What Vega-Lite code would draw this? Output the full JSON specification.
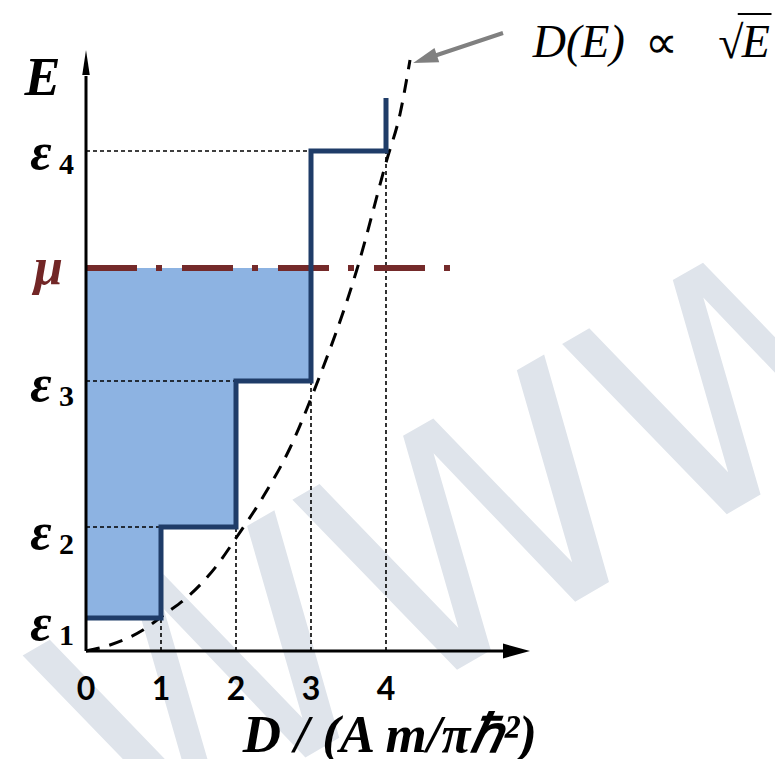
{
  "$schema": "https://vega.github.io/schema/vega-lite/v6.json",
  "width": 775,
  "height": 759,
  "autosize": {"type": "none"},
  "padding": 0,
  "background": "white",
  "config": {"view": {"stroke": null}},
  "layer": [
    {
      "data": {"values": [{"t": "WWW", "D": 5.96, "E": 0.25}]},
      "mark": {"type": "text", "font": "DejaVu Sans", "fontSize": 315, "angle": -30, "color": "#dfe4eb", "align": "center", "baseline": "alphabetic"},
      "encoding": {
        "x": {"field": "D", "type": "quantitative", "scale": {"domain": [-1.14667, 9.18667], "nice": false, "zero": false}, "axis": null},
        "y": {"field": "E", "type": "quantitative", "scale": {"domain": [-1.08, 6.51], "nice": false, "zero": false}, "axis": null},
        "text": {"field": "t"}
      }
    },
    {
      "data": {"values": [
        {"D0": 0, "D1": 1, "E0": 0.33, "E1": 1.24},
        {"D0": 0, "D1": 2, "E0": 1.24, "E1": 2.70},
        {"D0": 0, "D1": 3, "E0": 2.70, "E1": 3.83}
      ]},
      "mark": {"type": "rect", "color": "#8db3e2"},
      "encoding": {
        "x": {"field": "D0", "type": "quantitative", "scale": {"domain": [-1.14667, 9.18667], "nice": false, "zero": false}, "axis": null},
        "x2": {"field": "D1"},
        "y": {"field": "E0", "type": "quantitative", "scale": {"domain": [-1.08, 6.51], "nice": false, "zero": false}, "axis": null},
        "y2": {"field": "E1"}
      }
    },
    {
      "data": {"values": [
        {"D0": 0, "D1": 1, "E0": 1.24, "E1": 1.24},
        {"D0": 0, "D1": 2, "E0": 2.70, "E1": 2.70},
        {"D0": 0, "D1": 3, "E0": 5.00, "E1": 5.00},
        {"D0": 1, "D1": 1, "E0": 0, "E1": 0.33},
        {"D0": 2, "D1": 2, "E0": 0, "E1": 1.24},
        {"D0": 3, "D1": 3, "E0": 0, "E1": 2.70},
        {"D0": 4, "D1": 4, "E0": 0, "E1": 5.00}
      ]},
      "mark": {"type": "rule", "color": "black", "strokeWidth": 1.6, "strokeDash": [4, 3]},
      "encoding": {
        "x": {"field": "D0", "type": "quantitative", "scale": {"domain": [-1.14667, 9.18667], "nice": false, "zero": false}, "axis": null},
        "x2": {"field": "D1"},
        "y": {"field": "E0", "type": "quantitative", "scale": {"domain": [-1.08, 6.51], "nice": false, "zero": false}, "axis": null},
        "y2": {"field": "E1"}
      }
    },
    {
      "data": {"values": [
        {"D": 0, "E": 0},
        {"D": 0.32, "E": 0.06},
        {"D": 0.76, "E": 0.21},
        {"D": 1.07, "E": 0.38},
        {"D": 1.29, "E": 0.5},
        {"D": 1.75, "E": 0.86},
        {"D": 2.01, "E": 1.14},
        {"D": 2.36, "E": 1.54},
        {"D": 2.72, "E": 2.03},
        {"D": 3.06, "E": 2.64},
        {"D": 3.61, "E": 3.81},
        {"D": 4.01, "E": 4.91},
        {"D": 4.19, "E": 5.38},
        {"D": 4.32, "E": 5.91}
      ]},
      "mark": {"type": "line", "color": "black", "strokeWidth": 3, "strokeDash": [14, 10], "interpolate": "monotone"},
      "encoding": {
        "x": {"field": "D", "type": "quantitative", "scale": {"domain": [-1.14667, 9.18667], "nice": false, "zero": false}, "axis": null},
        "y": {"field": "E", "type": "quantitative", "scale": {"domain": [-1.08, 6.51], "nice": false, "zero": false}, "axis": null}
      }
    },
    {
      "data": {"values": [{"D0": 0, "D1": 4.853, "E": 3.83}]},
      "mark": {"type": "rule", "color": "#742a2a", "strokeWidth": 6, "strokeDash": [51, 19, 6, 20], "strokeCap": "butt"},
      "encoding": {
        "x": {"field": "D0", "type": "quantitative", "scale": {"domain": [-1.14667, 9.18667], "nice": false, "zero": false}, "axis": null},
        "x2": {"field": "D1"},
        "y": {"field": "E", "type": "quantitative", "scale": {"domain": [-1.08, 6.51], "nice": false, "zero": false}, "axis": null}
      }
    },
    {
      "data": {"values": [
        {"i": 0, "D": 0, "E": 0.33},
        {"i": 1, "D": 1, "E": 0.33},
        {"i": 2, "D": 1, "E": 1.24},
        {"i": 3, "D": 2, "E": 1.24},
        {"i": 4, "D": 2, "E": 2.70},
        {"i": 5, "D": 3, "E": 2.70},
        {"i": 6, "D": 3, "E": 5.00},
        {"i": 7, "D": 4, "E": 5.00},
        {"i": 8, "D": 4, "E": 5.53}
      ]},
      "mark": {"type": "line", "color": "#1f3c68", "strokeWidth": 5, "strokeJoin": "miter"},
      "encoding": {
        "x": {"field": "D", "type": "quantitative", "scale": {"domain": [-1.14667, 9.18667], "nice": false, "zero": false}, "axis": null},
        "y": {"field": "E", "type": "quantitative", "scale": {"domain": [-1.08, 6.51], "nice": false, "zero": false}, "axis": null},
        "order": {"field": "i", "type": "quantitative"}
      }
    },
    {
      "data": {"values": [
        {"D0": 0, "D1": 5.7, "E0": 0, "E1": 0},
        {"D0": 0, "D1": 0, "E0": 0, "E1": 5.75}
      ]},
      "mark": {"type": "rule", "color": "black", "strokeWidth": 3},
      "encoding": {
        "x": {"field": "D0", "type": "quantitative", "scale": {"domain": [-1.14667, 9.18667], "nice": false, "zero": false}, "axis": null},
        "x2": {"field": "D1"},
        "y": {"field": "E0", "type": "quantitative", "scale": {"domain": [-1.08, 6.51], "nice": false, "zero": false}, "axis": null},
        "y2": {"field": "E1"}
      }
    },
    {
      "data": {"values": [{"D": 5.74, "E": 0}]},
      "mark": {"type": "point", "shape": "M-1,-0.55L1,0L-1,0.55Z", "size": 729, "filled": true, "color": "black", "opacity": 1, "strokeWidth": 0},
      "encoding": {
        "x": {"field": "D", "type": "quantitative", "scale": {"domain": [-1.14667, 9.18667], "nice": false, "zero": false}, "axis": null},
        "y": {"field": "E", "type": "quantitative", "scale": {"domain": [-1.08, 6.51], "nice": false, "zero": false}, "axis": null}
      }
    },
    {
      "data": {"values": [{"D": 0.0, "E": 5.885}]},
      "mark": {"type": "point", "shape": "M0,-1L0.3,1L-0.3,1Z", "size": 625, "filled": true, "color": "black", "opacity": 1, "strokeWidth": 0},
      "encoding": {
        "x": {"field": "D", "type": "quantitative", "scale": {"domain": [-1.14667, 9.18667], "nice": false, "zero": false}, "axis": null},
        "y": {"field": "E", "type": "quantitative", "scale": {"domain": [-1.08, 6.51], "nice": false, "zero": false}, "axis": null}
      }
    },
    {
      "data": {"values": [{"D0": 5.56, "D1": 4.52, "E0": 6.18, "E1": 5.92}]},
      "mark": {"type": "rule", "color": "#808080", "strokeWidth": 4},
      "encoding": {
        "x": {"field": "D0", "type": "quantitative", "scale": {"domain": [-1.14667, 9.18667], "nice": false, "zero": false}, "axis": null},
        "x2": {"field": "D1"},
        "y": {"field": "E0", "type": "quantitative", "scale": {"domain": [-1.08, 6.51], "nice": false, "zero": false}, "axis": null},
        "y2": {"field": "E1"}
      }
    },
    {
      "data": {"values": [{"D": 4.52, "E": 5.92}]},
      "mark": {"type": "point", "shape": "M1,0L-1,-0.6L-1,0.6Z", "size": 625, "filled": true, "color": "#808080", "opacity": 1, "strokeWidth": 0, "angle": 161.6},
      "encoding": {
        "x": {"field": "D", "type": "quantitative", "scale": {"domain": [-1.14667, 9.18667], "nice": false, "zero": false}, "axis": null},
        "y": {"field": "E", "type": "quantitative", "scale": {"domain": [-1.08, 6.51], "nice": false, "zero": false}, "axis": null}
      }
    },
    {
      "data": {"values": [{"t": "E", "D": -0.58, "E": 5.56}]},
      "mark": {"type": "text", "font": "Liberation Serif", "fontStyle": "italic", "fontWeight": "bold", "align": "center", "baseline": "alphabetic", "fontSize": 54, "color": "black"},
      "encoding": {
        "x": {"field": "D", "type": "quantitative", "scale": {"domain": [-1.14667, 9.18667], "nice": false, "zero": false}, "axis": null},
        "y": {"field": "E", "type": "quantitative", "scale": {"domain": [-1.08, 6.51], "nice": false, "zero": false}, "axis": null},
        "text": {"field": "t"}
      }
    },
    {
      "data": {"values": [
        {"t": "ε", "D": -0.6, "E": 4.98, "c": "k"},
        {"t": "ε", "D": -0.6, "E": 2.66, "c": "k"},
        {"t": "ε", "D": -0.6, "E": 1.18, "c": "k"},
        {"t": "ε", "D": -0.6, "E": 0.27, "c": "k"},
        {"t": "μ", "D": -0.5, "E": 3.83, "c": "r"}
      ]},
      "mark": {"type": "text", "font": "Liberation Serif", "fontStyle": "italic", "fontWeight": "bold", "align": "center", "baseline": "middle", "fontSize": 52},
      "encoding": {
        "x": {"field": "D", "type": "quantitative", "scale": {"domain": [-1.14667, 9.18667], "nice": false, "zero": false}, "axis": null},
        "y": {"field": "E", "type": "quantitative", "scale": {"domain": [-1.08, 6.51], "nice": false, "zero": false}, "axis": null},
        "text": {"field": "t"},
        "color": {"field": "c", "type": "nominal", "scale": {"domain": ["k", "r"], "range": ["#000000", "#722626"]}, "legend": null}
      }
    },
    {
      "data": {"values": [
        {"t": "4", "D": -0.26, "E": 4.86},
        {"t": "3", "D": -0.26, "E": 2.54},
        {"t": "2", "D": -0.26, "E": 1.06},
        {"t": "1", "D": -0.26, "E": 0.15}
      ]},
      "mark": {"type": "text", "font": "Liberation Serif", "fontWeight": "bold", "align": "center", "baseline": "middle", "fontSize": 30, "color": "black"},
      "encoding": {
        "x": {"field": "D", "type": "quantitative", "scale": {"domain": [-1.14667, 9.18667], "nice": false, "zero": false}, "axis": null},
        "y": {"field": "E", "type": "quantitative", "scale": {"domain": [-1.08, 6.51], "nice": false, "zero": false}, "axis": null},
        "text": {"field": "t"}
      }
    },
    {
      "data": {"values": [
        {"t": "0", "D": 0, "E": -0.39},
        {"t": "1", "D": 1, "E": -0.39},
        {"t": "2", "D": 2, "E": -0.39},
        {"t": "3", "D": 3, "E": -0.39},
        {"t": "4", "D": 4, "E": -0.39}
      ]},
      "mark": {"type": "text", "font": "Lato", "fontWeight": "bold", "align": "center", "baseline": "middle", "fontSize": 32, "color": "black"},
      "encoding": {
        "x": {"field": "D", "type": "quantitative", "scale": {"domain": [-1.14667, 9.18667], "nice": false, "zero": false}, "axis": null},
        "y": {"field": "E", "type": "quantitative", "scale": {"domain": [-1.08, 6.51], "nice": false, "zero": false}, "axis": null},
        "text": {"field": "t"}
      }
    },
    {
      "data": {"values": [{"t": "D / (A m/πℏ²)", "D": 4.05, "E": -0.85}]},
      "mark": {"type": "text", "font": "Liberation Serif", "fontStyle": "italic", "fontWeight": "bold", "align": "center", "baseline": "middle", "fontSize": 53, "color": "black"},
      "encoding": {
        "x": {"field": "D", "type": "quantitative", "scale": {"domain": [-1.14667, 9.18667], "nice": false, "zero": false}, "axis": null},
        "y": {"field": "E", "type": "quantitative", "scale": {"domain": [-1.08, 6.51], "nice": false, "zero": false}, "axis": null},
        "text": {"field": "t"}
      }
    },
    {
      "data": {"values": [
        {"t": "D(E)", "D": 6.57, "E": 6.08},
        {"t": "E", "D": 8.93, "E": 6.08}
      ]},
      "mark": {"type": "text", "font": "Liberation Serif", "fontStyle": "italic", "align": "center", "baseline": "middle", "fontSize": 46, "color": "black"},
      "encoding": {
        "x": {"field": "D", "type": "quantitative", "scale": {"domain": [-1.14667, 9.18667], "nice": false, "zero": false}, "axis": null},
        "y": {"field": "E", "type": "quantitative", "scale": {"domain": [-1.08, 6.51], "nice": false, "zero": false}, "axis": null},
        "text": {"field": "t"}
      }
    },
    {
      "data": {"values": [
        {"t": "∝", "D": 7.67, "E": 6.07},
        {"t": "√", "D": 8.6, "E": 6.07}
      ]},
      "mark": {"type": "text", "font": "Liberation Serif", "align": "center", "baseline": "middle", "fontSize": 46, "color": "black"},
      "encoding": {
        "x": {"field": "D", "type": "quantitative", "scale": {"domain": [-1.14667, 9.18667], "nice": false, "zero": false}, "axis": null},
        "y": {"field": "E", "type": "quantitative", "scale": {"domain": [-1.08, 6.51], "nice": false, "zero": false}, "axis": null},
        "text": {"field": "t"}
      }
    },
    {
      "data": {"values": [{"D0": 8.69, "D1": 9.14, "E": 6.37}]},
      "mark": {"type": "rule", "color": "black", "strokeWidth": 2},
      "encoding": {
        "x": {"field": "D0", "type": "quantitative", "scale": {"domain": [-1.14667, 9.18667], "nice": false, "zero": false}, "axis": null},
        "x2": {"field": "D1"},
        "y": {"field": "E", "type": "quantitative", "scale": {"domain": [-1.08, 6.51], "nice": false, "zero": false}, "axis": null}
      }
    }
  ]
}
